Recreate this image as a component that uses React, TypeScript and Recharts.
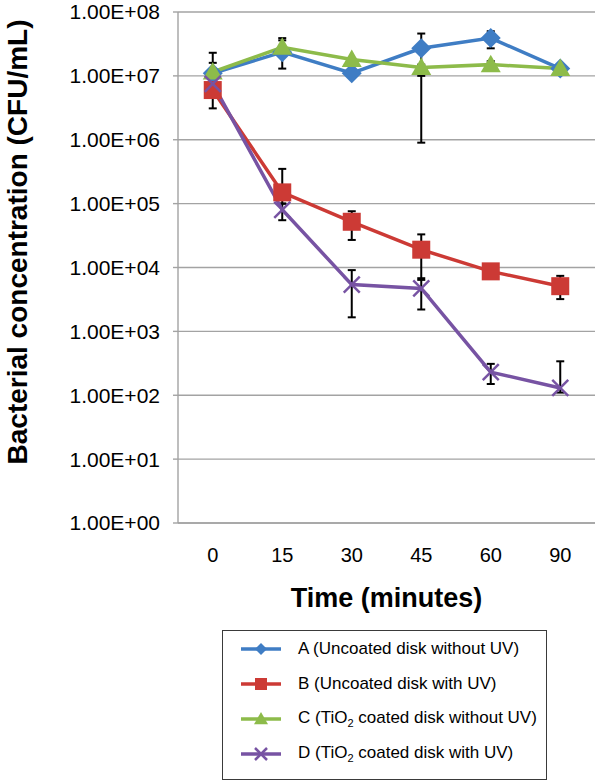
import React from 'react';
import { LineChart, Line, XAxis, YAxis, CartesianGrid, ErrorBar } from 'recharts';

// time points (minutes)
const times = ['0', '15', '30', '45', '60', '90'];

// mean CFU/mL
const seriesA = [1.1e7, 2.35e7, 1.1e7, 2.7e7, 3.9e7, 1.3e7];
const seriesB = [6.0e6, 1.5e5, 5.2e4, 1.9e4, 8.7e3, 5.1e3];
const seriesC = [1.15e7, 2.8e7, 1.8e7, 1.35e7, 1.5e7, 1.3e7];
const seriesD = [7.5e6, 8.0e4, 5.4e3, 4.7e3, 2.3e2, 1.3e2];

// error bar ends (low / high)
const lowA = [9.0e6, 1.3e7, 1.05e7, 9.0e5, 2.7e7, 1.25e7];
const highA = [2.3e7, 3.6e7, 1.15e7, 4.6e7, 5.0e7, 1.35e7];
const lowB = [3.1e6, 1.0e5, 2.7e4, 6.8e3, 7.8e3, 3.2e3];
const highB = [8.0e6, 3.5e5, 7.6e4, 3.3e4, 9.5e3, 7.4e3];
const lowC = [1.0e7, 2.2e7, 1.7e7, 1.0e7, 1.3e7, 1.25e7];
const highC = [1.6e7, 3.9e7, 1.9e7, 1.5e7, 1.7e7, 1.35e7];
const lowD = [7.0e6, 5.5e4, 1.66e3, 2.2e3, 1.5e2, 1.1e2];
const highD = [8.0e6, 1.0e5, 9.1e3, 6.4e3, 3.1e2, 3.4e2];

const yTicks = [1, 10, 100, 1e3, 1e4, 1e5, 1e6, 1e7, 1e8];
const yTickLabels = ['1.00E+00', '1.00E+01', '1.00E+02', '1.00E+03', '1.00E+04', '1.00E+05', '1.00E+06', '1.00E+07', '1.00E+08'];
const edgeTicks = [0, 1, 2, 3, 4, 5, 6];

const BLUE = '#3f7dc4';
const RED = '#cc3a35';
const GREEN = '#8dbb4a';
const PURPLE = '#7753a3';
const GRID = '#a3a3a3';
const FONT = '"Liberation Sans", Arial, sans-serif';

const err = (v: number, lo: number, hi: number) => [v - lo, hi - v];

const rows = times.map((t, i) => ({
  t,
  a: seriesA[i],
  b: seriesB[i],
  c: seriesC[i],
  d: seriesD[i],
  ea: err(seriesA[i], lowA[i], highA[i]),
  eb: err(seriesB[i], lowB[i], highB[i]),
  ec: err(seriesC[i], lowC[i], highC[i]),
  ed: err(seriesD[i], lowD[i], highD[i]),
}));

const Diamond = ({ cx, cy, r, fill }: any) => (
  <polygon points={`${cx},${cy - r} ${cx + r},${cy} ${cx},${cy + r} ${cx - r},${cy}`} fill={fill} />
);
const Square = ({ cx, cy, r, fill }: any) => (
  <rect x={cx - r} y={cy - r} width={r * 2} height={r * 2} fill={fill} />
);
const Triangle = ({ cx, cy, r, fill }: any) => (
  <polygon points={`${cx},${cy - r} ${cx + r},${cy + r * 0.75} ${cx - r},${cy + r * 0.75}`} fill={fill} />
);
const Cross = ({ cx, cy, r, fill }: any) => (
  <g stroke={fill} strokeWidth={2.5}>
    <line x1={cx - r} y1={cy - r} x2={cx + r} y2={cy + r} />
    <line x1={cx - r} y1={cy + r} x2={cx + r} y2={cy - r} />
  </g>
);

const legendItems = [
  { color: BLUE, Shape: Diamond, r: 6, label: <>A (Uncoated disk without UV)</> },
  { color: RED, Shape: Square, r: 6, label: <>B (Uncoated disk with UV)</> },
  { color: GREEN, Shape: Triangle, r: 7, label: <>C (TiO<sub style={{ fontSize: 11 }}>2</sub> coated disk without UV)</> },
  { color: PURPLE, Shape: Cross, r: 6, label: <>D (TiO<sub style={{ fontSize: 11 }}>2</sub> coated disk with UV)</> },
];

const makeDot = (Shape: any, r: number, fill: string, key: string) => (p: any) => (
  <Shape key={`${key}-${p.index}`} cx={p.cx} cy={p.cy} r={r} fill={fill} />
);

export default function App() {
  return (
    <div style={{ position: 'absolute', left: 0, top: 0, width: 596, height: 782, background: '#fff', fontFamily: FONT }}>
      <LineChart width={596} height={625} data={rows} margin={{ top: 12, right: 1, left: 0, bottom: 0 }}>
        <CartesianGrid vertical={false} stroke={GRID} strokeWidth={1.4} />
        <XAxis
          xAxisId="edge"
          type="number"
          domain={[0, 6]}
          ticks={edgeTicks}
          tick={false}
          tickSize={7}
          height={8}
          stroke={GRID}
          strokeWidth={1.4}
        />
        <XAxis
          xAxisId="time"
          dataKey="t"
          height={94}
          padding={{ left: 34.75, right: 34.75 }}
          axisLine={false}
          tickLine={false}
          tickSize={0}
          tickMargin={17}
          tick={{ fontSize: 20, fill: '#000', fontFamily: FONT }}
          label={{
            content: (p: any) => (
              <text
                x={p.viewBox.x + p.viewBox.width / 2}
                y={p.viewBox.y + 67}
                textAnchor="middle"
                dominantBaseline="central"
                fontSize={27}
                fontWeight={700}
                fontFamily={FONT}
                fill="#000"
              >
                Time (minutes)
              </text>
            ),
          }}
        />
        <YAxis
          scale="log"
          domain={[1, 1e8]}
          ticks={yTicks}
          interval={0}
          width={178}
          stroke={GRID}
          strokeWidth={1.4}
          tickSize={5}
          tickMargin={13}
          tickFormatter={(v: number) => yTickLabels[yTicks.indexOf(v)]}
          tick={{ fontSize: 21, fill: '#000', fontFamily: FONT }}
          label={{
            content: () => (
              <text
                transform="translate(17,242) rotate(-90)"
                textAnchor="middle"
                dominantBaseline="central"
                fontSize={28}
                fontWeight={700}
                fontFamily={FONT}
                fill="#000"
              >
                Bacterial concentration (CFU/mL)
              </text>
            ),
          }}
        />
        <Line xAxisId="time" dataKey="a" stroke={BLUE} strokeWidth={3.5} dot={makeDot(Diamond, 10, BLUE, 'a')} isAnimationActive={false}>
          <ErrorBar dataKey="ea" width={4} stroke="#000" strokeWidth={2} />
        </Line>
        <Line xAxisId="time" dataKey="b" stroke={RED} strokeWidth={3.5} dot={makeDot(Square, 9, RED, 'b')} isAnimationActive={false}>
          <ErrorBar dataKey="eb" width={4} stroke="#000" strokeWidth={2} />
        </Line>
        <Line xAxisId="time" dataKey="c" stroke={GREEN} strokeWidth={3.5} dot={makeDot(Triangle, 10, GREEN, 'c')} isAnimationActive={false}>
          <ErrorBar dataKey="ec" width={4} stroke="#000" strokeWidth={2} />
        </Line>
        <Line xAxisId="time" dataKey="d" stroke={PURPLE} strokeWidth={3.5} dot={makeDot(Cross, 8, PURPLE, 'd')} isAnimationActive={false}>
          <ErrorBar dataKey="ed" width={4} stroke="#000" strokeWidth={2} />
        </Line>
      </LineChart>
      <div
        style={{
          position: 'absolute',
          left: 222,
          top: 630,
          width: 325,
          height: 150,
          border: '1.5px solid #3a3a3a',
          boxSizing: 'border-box',
        }}
      >
        {legendItems.map((it, i) => (
          <div key={i} style={{ position: 'absolute', left: 17, top: 5 + i * 35, height: 26, display: 'flex', alignItems: 'center' }}>
            <svg width={42} height={26} style={{ display: 'block' }}>
              <line x1={1} y1={13} x2={41} y2={13} stroke={it.color} strokeWidth={3.5} />
              <it.Shape cx={21} cy={13} r={it.r} fill={it.color} />
            </svg>
            <span style={{ marginLeft: 16, fontSize: 17, color: '#000', whiteSpace: 'nowrap' }}>{it.label}</span>
          </div>
        ))}
      </div>
    </div>
  );
}
